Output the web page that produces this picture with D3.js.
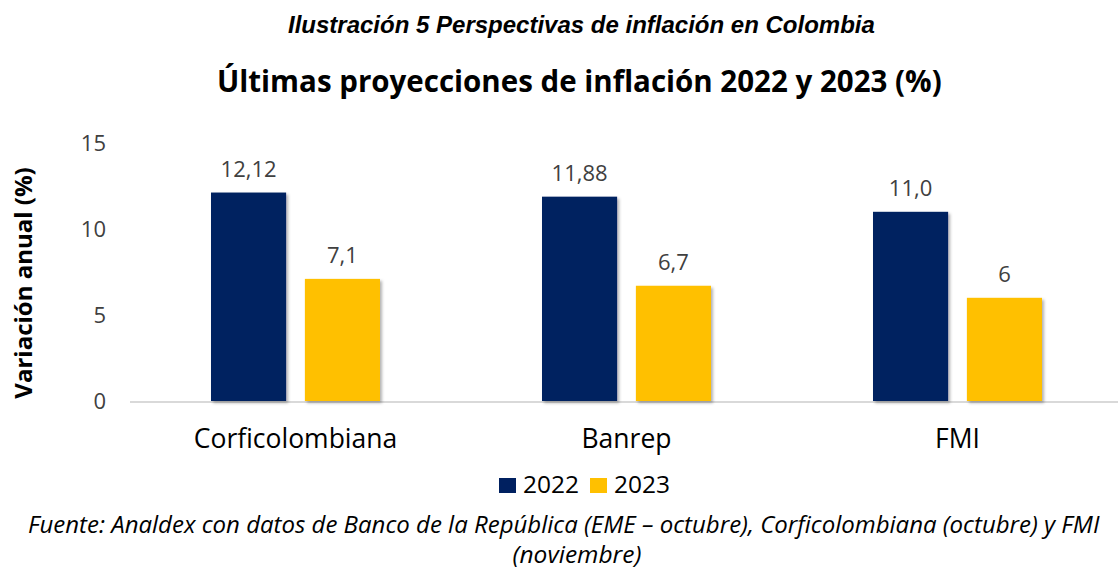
<!DOCTYPE html>
<html>
<head>
<meta charset="utf-8">
<script src="https://cdn.jsdelivr.net/npm/d3@7"></script>
<style>
  html, body { margin: 0; padding: 0; background: #fff; overflow: hidden; }
  svg { display: block; }
</style>
</head>
<body>
<div id="chart"></div>
<script>
(function () {
    'use strict';

    // Data
    const categories = ['Corficolombiana', 'Banrep', 'FMI'];
    const seriesNames = ['2022', '2023'];
    const values2022 = [12.12, 11.88, 11.0];
    const values2023 = [7.1, 6.7, 6];
    const labels2022 = ['12,12', '11,88', '11,0'];
    const labels2023 = ['7,1', '6,7', '6'];
    const yTicks = [0, 5, 10, 15];

    const CONFIG = {
        width: 1118,
        height: 571,
        colors: { '2022': '#002060', '2023': '#FFC000' },
        font: '"Open Sans", "DejaVu Sans", sans-serif',
        textGray: '#404040'
    };

    const margin = { left: 130, right: -5, top: 143 };
    const plotW = CONFIG.width - margin.left - margin.right;
    const plotBottom = 401;

    const svg = d3.select('#chart')
        .append('svg')
        .attr('width', CONFIG.width)
        .attr('height', CONFIG.height);

    // Soft shadow for bars
    const defs = svg.append('defs');
    const filter = defs.append('filter')
        .attr('id', 'shadow')
        .attr('x', '-10%').attr('y', '-10%')
        .attr('width', '130%').attr('height', '130%');
    filter.append('feDropShadow')
        .attr('dx', 2).attr('dy', 2)
        .attr('stdDeviation', 1.5)
        .attr('flood-color', '#000')
        .attr('flood-opacity', 0.3);

    // Scales
    const x0 = d3.scaleBand()
        .domain(categories)
        .range([margin.left, margin.left + plotW]);

    const x1 = d3.scaleBand()
        .domain(seriesNames)
        .range([x0.bandwidth() / 2 - 84.5, x0.bandwidth() / 2 + 84.5])
        .paddingInner(0.2)
        .paddingOuter(0);

    const y = d3.scaleLinear()
        .domain([0, 15])
        .range([plotBottom, margin.top]);

    // Headings
    svg.append('text')
        .attr('x', 288).attr('y', 33)
        .style('font-family', 'Arial, "Liberation Sans", sans-serif')
        .style('font-weight', 'bold')
        .style('font-style', 'italic')
        .style('font-size', '24px')
        .attr('fill', '#000')
        .text('Ilustración 5 Perspectivas de inflación en Colombia');

    svg.append('text')
        .attr('x', 217).attr('y', 92)
        .style('font-family', CONFIG.font)
        .style('font-weight', 'bold')
        .style('font-size', '29.5px')
        .attr('fill', '#000')
        .text('Últimas proyecciones de inflación 2022 y 2023 (%)');

    // Baseline
    svg.append('line')
        .attr('x1', margin.left).attr('x2', margin.left + plotW)
        .attr('y1', y(0) + 1).attr('y2', y(0) + 1)
        .attr('stroke', '#d9d9d9')
        .attr('stroke-width', 2);

    // Y axis
    const yAxis = svg.append('g')
        .attr('transform', `translate(106,0)`)
        .call(d3.axisLeft(y).tickValues(yTicks).tickSize(0).tickPadding(0));
    yAxis.select('.domain').remove();
    yAxis.selectAll('text')
        .style('font-family', CONFIG.font)
        .style('font-size', '22px')
        .attr('fill', CONFIG.textGray);

    svg.append('text')
        .attr('transform', 'translate(32,283) rotate(-90)')
        .attr('text-anchor', 'middle')
        .style('font-family', CONFIG.font)
        .style('font-weight', 'bold')
        .style('font-size', '24px')
        .attr('fill', '#000')
        .text('Variación anual (%)');

    // X axis category labels
    const xAxis = svg.append('g')
        .attr('transform', `translate(0,${plotBottom})`)
        .call(d3.axisBottom(x0).tickSize(0).tickPadding(0));
    xAxis.select('.domain').remove();
    xAxis.selectAll('text')
        .attr('dy', null)
        .attr('y', 47)
        .style('font-family', CONFIG.font)
        .style('font-size', '26.5px')
        .attr('fill', '#000');

    // Bars
    const rows = categories.map((c, i) => ({
        category: c,
        items: [
            { key: '2022', value: values2022[i], label: labels2022[i] },
            { key: '2023', value: values2023[i], label: labels2023[i] }
        ]
    }));

    const groups = svg.append('g')
        .selectAll('g')
        .data(rows)
        .enter()
        .append('g')
        .attr('transform', d => `translate(${x0(d.category)},0)`);

    groups.selectAll('rect')
        .data(d => d.items)
        .enter()
        .append('rect')
        .attr('x', d => x1(d.key))
        .attr('width', x1.bandwidth())
        .attr('y', d => y(d.value))
        .attr('height', d => y(0) - y(d.value))
        .attr('fill', d => CONFIG.colors[d.key])
        .attr('filter', 'url(#shadow)');

    groups.selectAll('text.val')
        .data(d => d.items)
        .enter()
        .append('text')
        .attr('class', 'val')
        .attr('x', d => x1(d.key) + x1.bandwidth() / 2)
        .attr('y', d => y(d.value) - 16)
        .attr('text-anchor', 'middle')
        .style('font-family', CONFIG.font)
        .style('font-size', '22px')
        .attr('fill', CONFIG.textGray)
        .text(d => d.label);

    // Legend
    const legend = svg.append('g').attr('transform', 'translate(499,493)');
    const legendX = [0, 91];
    seriesNames.forEach((s, i) => {
        legend.append('rect')
            .attr('x', legendX[i]).attr('y', -15)
            .attr('width', 17).attr('height', 15)
            .attr('fill', CONFIG.colors[s]);
        legend.append('text')
            .attr('x', legendX[i] + 24).attr('y', 0)
            .style('font-family', CONFIG.font)
            .style('font-size', '24.5px')
            .attr('fill', '#000')
            .text(s);
    });

    // Source note
    svg.append('text')
        .attr('x', 28).attr('y', 533)
        .style('font-family', CONFIG.font)
        .style('font-style', 'italic')
        .style('font-size', '24px')
        .attr('fill', '#000')
        .text('Fuente: Analdex con datos de Banco de la República (EME – octubre), Corficolombiana (octubre) y FMI');

    svg.append('text')
        .attr('x', 577).attr('y', 563)
        .attr('text-anchor', 'middle')
        .style('font-family', CONFIG.font)
        .style('font-style', 'italic')
        .style('font-size', '24.5px')
        .attr('fill', '#000')
        .text('(noviembre)');
})();
</script>
</body>
</html>
